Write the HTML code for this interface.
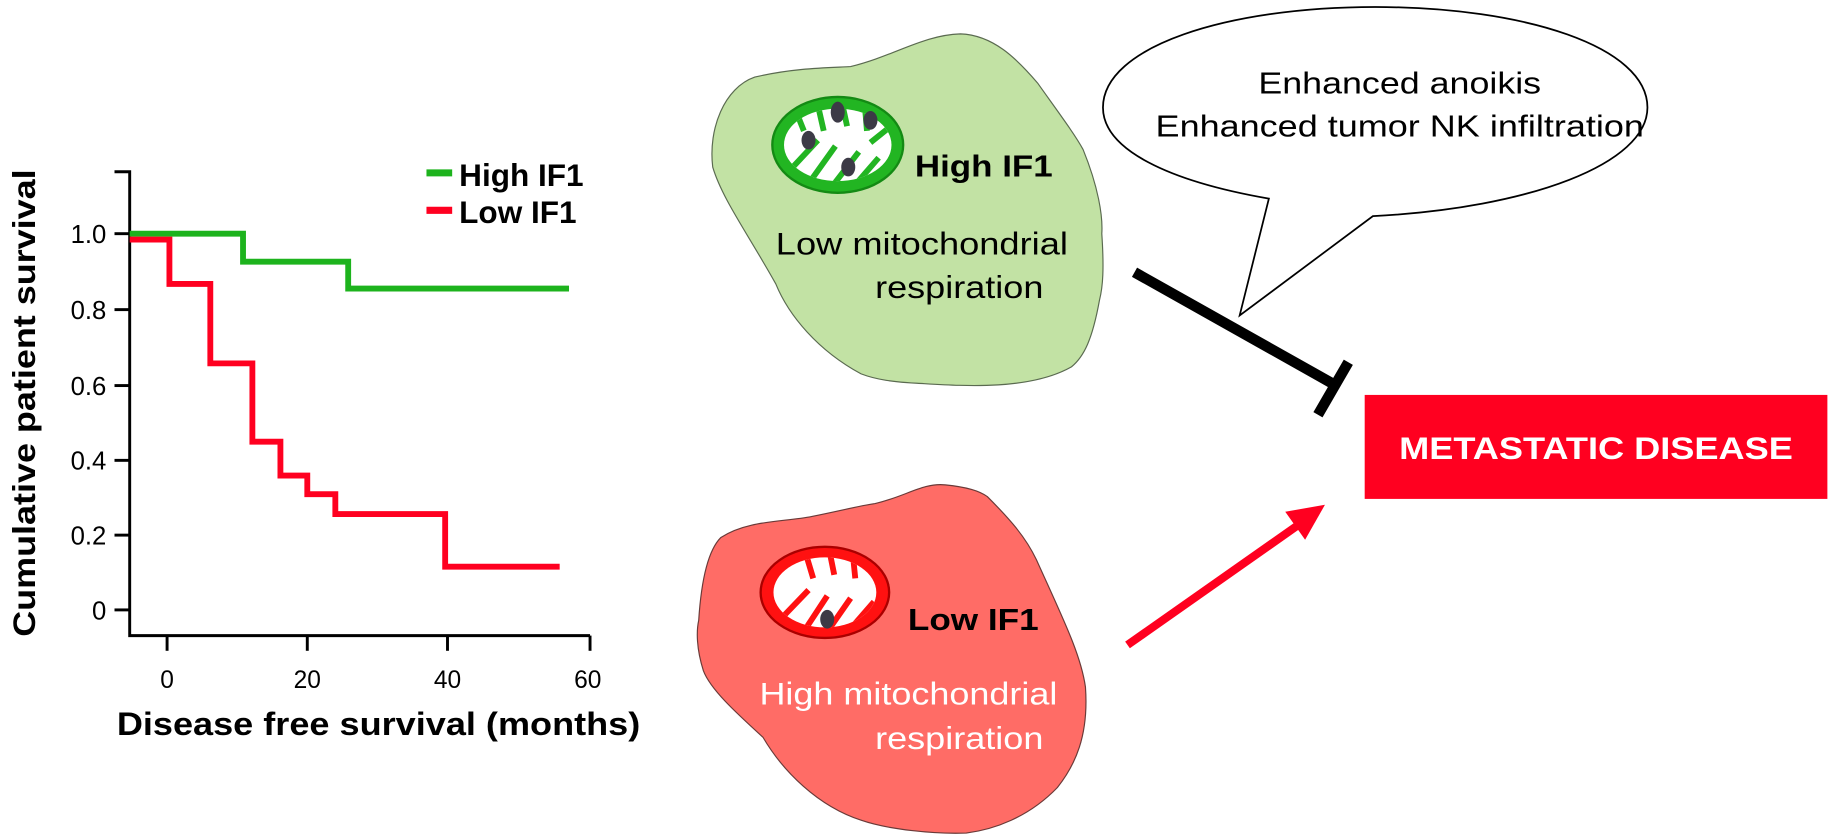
<!DOCTYPE html>
<html><head><meta charset="utf-8"><style>
body{margin:0;background:#fff}
svg{display:block;font-family:"Liberation Sans",Arial,sans-serif}
</style></head><body>
<svg width="1832" height="840" viewBox="0 0 1832 840">
<defs>
<clipPath id="cg"><ellipse cx="717" cy="124" rx="46" ry="31"/></clipPath>
<clipPath id="cr"><ellipse cx="706" cy="507" rx="44" ry="30"/></clipPath>
</defs>
<g transform="scale(1.1684)">
<g stroke="#000" stroke-width="2.5" fill="none">
<polyline points="98,147 111,147 111,544 505,544"/>
<line x1="98" y1="200" x2="111" y2="200"/>
<line x1="98" y1="265" x2="111" y2="265"/>
<line x1="98" y1="330" x2="111" y2="330"/>
<line x1="98" y1="394" x2="111" y2="394"/>
<line x1="98" y1="458" x2="111" y2="458"/>
<line x1="98" y1="522" x2="111" y2="522"/>
<line x1="143" y1="544" x2="143" y2="557"/>
<line x1="263" y1="544" x2="263" y2="557"/>
<line x1="383" y1="544" x2="383" y2="557"/>
<line x1="505" y1="544" x2="505" y2="557"/>
</g>
<g font-size="22" fill="#000" text-anchor="end">
<text x="91" y="208">1.0</text><text x="91" y="273">0.8</text><text x="91" y="338">0.6</text>
<text x="91" y="402">0.4</text><text x="91" y="466">0.2</text><text x="91" y="530">0</text>
</g>
<g font-size="21" fill="#000" text-anchor="middle">
<text x="143" y="589">0</text><text x="263" y="589">20</text><text x="383" y="589">40</text><text x="503" y="589">60</text>
</g>
<text x="324" y="629" font-size="28" font-weight="bold" text-anchor="middle" textLength="448" lengthAdjust="spacingAndGlyphs">Disease free survival (months)</text>
<text transform="translate(30,345) rotate(-90)" font-size="27" font-weight="bold" text-anchor="middle" textLength="400" lengthAdjust="spacingAndGlyphs">Cumulative patient survival</text>
<polyline points="111,200 208,200 208,224 298,224 298,247 487,247" fill="none" stroke="#1db31d" stroke-width="5"/>
<polyline points="111,205 145,205 145,243 180,243 180,311 216,311 216,378 240,378 240,407 263,407 263,423 287,423 287,440 381,440 381,485 479,485" fill="none" stroke="#ff0020" stroke-width="5"/>
<line x1="365" y1="148" x2="387" y2="148" stroke="#1db31d" stroke-width="6"/>
<line x1="365" y1="180" x2="387" y2="180" stroke="#ff0020" stroke-width="6"/>
<text x="393" y="159" font-size="27" font-weight="bold">High IF1</text>
<text x="393" y="191" font-size="27" font-weight="bold">Low IF1</text>

<!-- green cell -->
<path d="M646,66 C680,58 710,58 728,57 C765,48 790,30 822,29 C850,30 870,50 888,71 C905,95 920,115 927,128 C940,160 944,185 943,200 C945,230 944,245 941,257 C935,290 928,305 917,314 C880,335 820,330 785,328 C765,327 750,325 737,320 C700,300 675,270 664,243 C640,200 618,170 610,143 C606,110 620,75 646,66 Z" fill="#c2e2a4" stroke="#5a6a50" stroke-width="1"/>
<ellipse cx="717" cy="124" rx="56" ry="41" fill="#22b522" stroke="#148a14" stroke-width="2"/>
<ellipse cx="717" cy="124" rx="46" ry="31" fill="#fff"/>
<g clip-path="url(#cg)" stroke="#22b522" stroke-width="5" fill="none">
<line x1="672" y1="150" x2="700" y2="120"/><line x1="690" y1="160" x2="715" y2="125"/>
<line x1="708" y1="165" x2="735" y2="130"/><line x1="726" y1="165" x2="752" y2="135"/>
<line x1="700" y1="90" x2="705" y2="112"/><line x1="720" y1="85" x2="725" y2="108"/>
<line x1="740" y1="88" x2="742" y2="112"/><line x1="680" y1="92" x2="688" y2="112"/>
<line x1="760" y1="110" x2="745" y2="122"/>
</g>
<g fill="#3c3a46"><ellipse cx="717" cy="96" rx="6" ry="9"/><ellipse cx="745" cy="103" rx="6" ry="8"/><ellipse cx="692" cy="120" rx="6" ry="8"/><ellipse cx="726" cy="143" rx="6" ry="8"/></g>
<text x="783" y="151" font-size="26" font-weight="bold" textLength="118" lengthAdjust="spacingAndGlyphs">High IF1</text>
<text x="664" y="218" font-size="27" textLength="250" lengthAdjust="spacingAndGlyphs">Low mitochondrial</text>
<text x="749" y="255" font-size="27" textLength="144" lengthAdjust="spacingAndGlyphs">respiration</text>

<!-- red cell -->
<path d="M617,460 C640,445 670,447 695,442 C720,437 735,433 749,431 C775,425 790,413 809,415 C828,417 838,420 845,425 C865,445 878,460 887,479 C910,530 925,560 929,588 C932,630 920,655 905,674 C880,700 850,710 827,713 C800,714 760,710 737,702 C700,690 670,660 653,631 C630,610 608,590 602,574 C596,555 596,540 598,531 C600,500 605,472 617,460 Z" fill="#ff6c66" stroke="#6a3a38" stroke-width="1"/>
<ellipse cx="706" cy="507" rx="55" ry="39" fill="#f11" stroke="#a00" stroke-width="2"/>
<ellipse cx="706" cy="507" rx="44" ry="30" fill="#fff"/>
<g clip-path="url(#cr)" stroke="#f11" stroke-width="5" fill="none">
<line x1="668" y1="530" x2="692" y2="505"/><line x1="685" y1="545" x2="708" y2="510"/>
<line x1="705" y1="545" x2="728" y2="512"/><line x1="722" y1="545" x2="748" y2="515"/>
<line x1="690" y1="475" x2="696" y2="495"/><line x1="710" y1="472" x2="714" y2="492"/>
<line x1="730" y1="475" x2="732" y2="495"/>
</g>
<ellipse cx="708" cy="530" rx="6" ry="8" fill="#3c3a46"/>
<text x="777" y="539" font-size="26" font-weight="bold" textLength="112" lengthAdjust="spacingAndGlyphs">Low IF1</text>
<text x="650" y="603" font-size="27" fill="#fff" textLength="255" lengthAdjust="spacingAndGlyphs">High mitochondrial</text>
<text x="749" y="641" font-size="27" fill="#fff" textLength="144" lengthAdjust="spacingAndGlyphs">respiration</text>

<!-- speech bubble -->
<path d="M1086,170 C1000,155 944,128 944,92 C944,40 1050,6 1177,6 C1305,6 1410,40 1410,92 C1410,140 1310,178 1175,185 L1061,270 Z" fill="#fff" stroke="#000" stroke-width="1.5"/>
<text x="1198" y="80" font-size="26" text-anchor="middle" textLength="242" lengthAdjust="spacingAndGlyphs">Enhanced anoikis</text>
<text x="1198" y="117" font-size="26" text-anchor="middle" textLength="418" lengthAdjust="spacingAndGlyphs">Enhanced tumor NK infiltration</text>

<!-- inhibition -->
<line x1="971" y1="233" x2="1140" y2="328" stroke="#000" stroke-width="9"/>
<line x1="1128" y1="355" x2="1154" y2="310" stroke="#000" stroke-width="9"/>

<!-- red arrow -->
<line x1="965" y1="552" x2="1113" y2="448" stroke="#ff0020" stroke-width="7"/>
<polygon points="1134,432 1100,438 1117,462" fill="#ff0020"/>

<rect x="1168" y="338" width="396" height="89" fill="#ff0020"/>
<text x="1366" y="393" font-size="27" font-weight="bold" fill="#fff" text-anchor="middle" textLength="337" lengthAdjust="spacingAndGlyphs">METASTATIC DISEASE</text>
</g>
</svg>
</body></html>
